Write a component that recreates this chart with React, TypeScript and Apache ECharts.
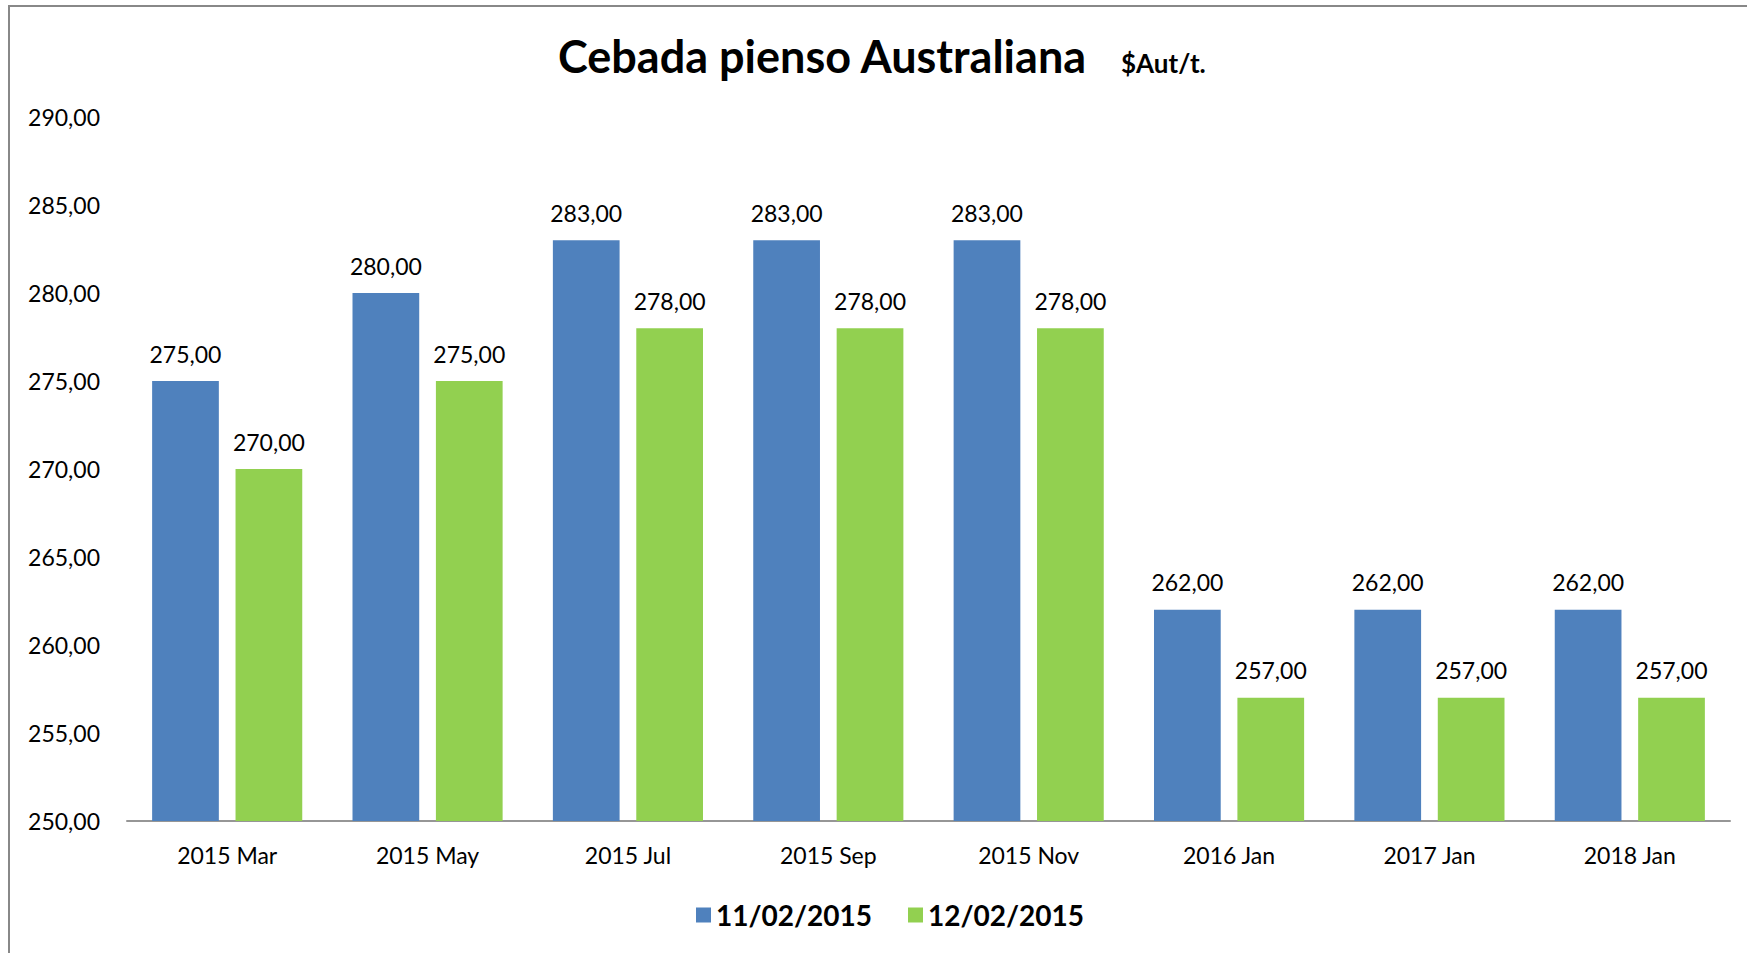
import React, { useEffect, useRef } from "react";
import * as echarts from "echarts";

const categories = ["2015 Mar", "2015 May", "2015 Jul", "2015 Sep", "2015 Nov", "2016 Jan", "2017 Jan", "2018 Jan"];
const seriesNames = ["11/02/2015", "12/02/2015"];
const values1 = [275, 280, 283, 283, 283, 262, 262, 262];
const values2 = [270, 275, 278, 278, 278, 257, 257, 257];
const colors = ["#4F81BD", "#92D050"];

const fmt = (v: number) => v.toFixed(2).replace(".", ",");
const FONT = "Lato";

export default function App() {
  const ref = useRef<HTMLDivElement>(null);
  useEffect(() => {
    if (!ref.current) return;
    const chart = echarts.init(ref.current, null, { renderer: "svg" });
    const label = {
      show: true,
      position: "top",
      distance: 16,
      color: "#000",
      fontFamily: FONT,
      fontSize: 23,
      formatter: (p: any) => fmt(p.value),
    };
    chart.setOption({
      animation: false,
      backgroundColor: "#fff",
      textStyle: { fontFamily: FONT },
      title: [
        {
          text: "Cebada pienso Australiana",
          left: 553,
          top: 28,
          textStyle: { fontFamily: FONT, fontSize: 45, fontWeight: "bold", color: "#000" },
        },
        {
          text: "$Aut/t.",
          left: 1116,
          top: 45,
          textStyle: { fontFamily: FONT, fontSize: 26, fontWeight: "bold", color: "#000" },
        },
      ],
      legend: {
        left: 691,
        top: 896,
        itemWidth: 15,
        itemHeight: 15,
        itemGap: 36,
        icon: "rect",
        textStyle: { fontFamily: FONT, fontSize: 28, fontWeight: "bold", color: "#000" },
        data: seriesNames,
      },
      grid: { left: 127, right: 17, top: 117, bottom: 132, containLabel: false },
      xAxis: {
        type: "category",
        data: categories,
        axisLine: { lineStyle: { color: "#969696", width: 2 } },
        axisTick: { show: false },
        axisLabel: { color: "#000", fontFamily: FONT, fontSize: 23, margin: 22 },
      },
      yAxis: {
        type: "value",
        min: 250,
        max: 290,
        interval: 5,
        axisLine: { show: false },
        axisTick: { show: false },
        splitLine: { show: false },
        axisLabel: { color: "#000", fontFamily: FONT, fontSize: 23, margin: 27, formatter: (v: number) => fmt(v) },
      },
      graphic: [
        {
          type: "rect",
          shape: { x: 9, y: 6, width: 1800, height: 1000 },
          style: { fill: "none", stroke: "#888888", lineWidth: 2 },
          silent: true,
        },
      ],
      series: [
        {
          name: seriesNames[0],
          type: "bar",
          data: values1,
          itemStyle: { color: colors[0] },
          barWidth: "33.3%",
          barGap: "25%",
          label,
        },
        {
          name: seriesNames[1],
          type: "bar",
          data: values2,
          itemStyle: { color: colors[1] },
          barWidth: "33.3%",
          barGap: "25%",
          label,
        },
      ],
    });
    return () => chart.dispose();
  }, []);
  return <div ref={ref} style={{ position: "fixed", left: 0, top: 0, width: 1747, height: 953 }} />;
}
